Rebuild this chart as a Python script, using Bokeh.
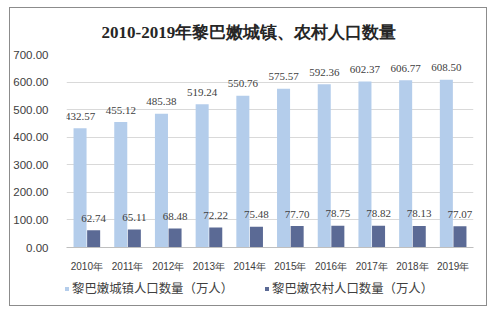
from bokeh.plotting import figure
from bokeh.layouts import column
from bokeh.models import (ColumnDataSource, FactorRange, Range1d, FixedTicker, NumeralTickFormatter,
                          LabelSet, Legend, LegendItem)
from bokeh.transform import dodge
from bokeh.embed import file_html
from bokeh.resources import INLINE

years = ["2010年", "2011年", "2012年", "2013年", "2014年", "2015年", "2016年", "2017年", "2018年", "2019年"]
urban = [432.57, 455.12, 485.38, 519.24, 550.76, 575.57, 592.36, 602.37, 606.77, 608.50]
rural = [62.74, 65.11, 68.48, 72.22, 75.48, 77.70, 78.75, 78.82, 78.13, 77.07]
series_names = ["黎巴嫩城镇人口数量（万人）", "黎巴嫩农村人口数量（万人）"]
title_text = "2010-2019年黎巴嫩城镇、农村人口数量"
y_ticks = [0, 100, 200, 300, 400, 500, 600, 700]

LIGHT = "#B4CDEB"
DARK = "#5B6A95"

src = ColumnDataSource(dict(
    years=years, urban=urban, rural=rural,
    urban_lbl=[f"{v:.2f}" for v in urban],
    rural_lbl=[f"{v:.2f}" for v in rural],
))

p = figure(width=476, height=270, output_backend="svg", toolbar_location=None,
           x_range=FactorRange(*years, range_padding=0), y_range=Range1d(0, 700),
           min_border_left=55, min_border_right=13, min_border_top=46, min_border_bottom=31,
           title=title_text)
p.frame_align = False
p.x_range.factor_padding = 0
p.outline_line_color = None
p.background_fill_color = "white"
p.border_fill_color = "white"

p.title.align = "left"
p.title.offset = 35
p.title.vertical_align = "middle"
p.title.standoff = 24
p.title.text_font = "Liberation Serif"
p.title.text_font_size = "17px"
p.title.text_font_style = "bold"
p.title.text_color = "#262626"

p.vbar(x=dodge("years", -0.167, range=p.x_range), top="urban", width=0.32, source=src,
       fill_color=LIGHT, line_color=None)
p.vbar(x=dodge("years", 0.167, range=p.x_range), top="rural", width=0.32, source=src,
       fill_color=DARK, line_color=None)

for col, lbl, off in (("urban", "urban_lbl", -0.167), ("rural", "rural_lbl", 0.167)):
    p.add_layout(LabelSet(x=dodge("years", off, range=p.x_range), y=col, text=lbl, source=src,
                          y_offset=12, text_align="center", text_baseline="middle",
                          text_font_size="11px", text_font="Liberation Sans", text_color="#404040"))

p.yaxis.ticker = FixedTicker(ticks=y_ticks)
p.yaxis.formatter = NumeralTickFormatter(format="0.00")
p.yaxis.axis_line_color = None
p.yaxis.major_tick_line_color = None
p.yaxis.minor_tick_line_color = None
p.yaxis.major_label_standoff = 12
p.yaxis.major_label_text_font = "Liberation Sans"
p.yaxis.major_label_text_font_size = "11.5px"
p.yaxis.major_label_text_color = "#404040"

p.xaxis.axis_line_color = "#BFBFBF"
p.xaxis.major_tick_line_color = None
p.xaxis.minor_tick_line_color = None
p.xaxis.major_label_standoff = 7
p.xaxis.major_label_text_font = "Liberation Sans"
p.xaxis.major_label_text_font_size = "10px"
p.xaxis.major_label_text_color = "#404040"

p.xgrid.grid_line_color = None
p.ygrid.grid_line_color = "#D9D9D9"
p.ygrid.ticker = FixedTicker(ticks=y_ticks)

# legend strip: hidden renderers supply the legend swatches only
lg = figure(width=476, height=27, output_backend="svg", toolbar_location=None,
            x_range=FactorRange(*years), y_range=Range1d(0, 700), x_axis_type=None, y_axis_type=None,
            min_border=0)
lg.frame_align = False
lg.outline_line_color = None
lg.grid.grid_line_color = None
lg.border_fill_color = "white"
g1 = lg.vbar(x="years", top="urban", width=0.3, source=src, fill_color=LIGHT, line_color=None)
g2 = lg.vbar(x="years", top="rural", width=0.3, source=src, fill_color=DARK, line_color=None)
g1.visible = False
g2.visible = False
legend = Legend(items=[LegendItem(label=series_names[0], renderers=[g1], index=0),
                       LegendItem(label=series_names[1], renderers=[g2], index=0)],
                orientation="horizontal", location=(54, 8), padding=0, margin=0,
                spacing=31, glyph_width=5, glyph_height=5, label_standoff=3,
                label_height=14, label_text_font_size="12.4px", label_text_font="Noto Sans CJK SC",
                label_text_color="#404040", background_fill_alpha=0, border_line_color=None,
                inactive_fill_alpha=0)
lg.add_layout(legend)

layout = column(p, lg, spacing=0, margin=(7, 0, 0, 9),
                styles={"border": "1px solid #8C8C8C", "background-color": "white"})

open("out.html", "w").write(file_html(layout, INLINE))
